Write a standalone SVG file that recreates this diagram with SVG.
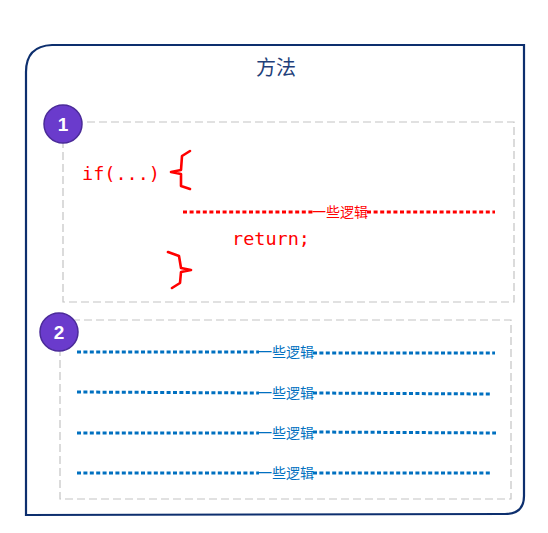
<svg xmlns="http://www.w3.org/2000/svg" width="548" height="533" viewBox="0 0 548 533">
<style>
.frame{fill:#fff;stroke:#0d2f6e;stroke-width:2.2}
.dbox{fill:none;stroke:#c4c4c4;stroke-width:1.2;stroke-dasharray:8 4}
.badge{fill:#6a3bcc;stroke:#4a2a99;stroke-width:1.5}
.num{font-family:"Liberation Sans",Arial,sans-serif;font-weight:bold;font-size:19px;fill:#fff;text-anchor:middle}
.title{font-family:"Noto Sans CJK SC",sans-serif;font-size:20px;fill:#1f3f7a;text-anchor:middle}
.code{font-family:"DejaVu Sans Mono","Liberation Mono",monospace;font-size:18.5px;fill:#ff0000}
.red{fill:none;stroke:#ff0000;stroke-width:3;stroke-dasharray:4 2.6}
.blue{fill:none;stroke:#0070c0;stroke-width:3;stroke-dasharray:4 2.4}
.brace{fill:none;stroke:#ff0000;stroke-width:2.6;stroke-linecap:round;stroke-linejoin:round}
.lblr{font-family:"Noto Sans CJK SC",sans-serif;font-size:14px;fill:#ff0000;text-anchor:middle}
.lblb{font-family:"Noto Sans CJK SC",sans-serif;font-size:14px;fill:#0070c0;text-anchor:middle}
</style>
<g id="method">
<path class="frame" d="M52 45 L524 45 L524 496 Q524 514 505 514 L26 515 L26 72 Q26 46 52 45 Z"/>
<text class="title" x="276" y="75">方法</text>
</g>
<g id="block1">
<rect class="dbox" x="63" y="122" width="451" height="180"/>
<circle class="badge" cx="63" cy="124" r="19"/>
<text class="num" x="63" y="131">1</text>
<text class="code" x="82" y="180">if(...)</text>
<path class="brace" d="M190 151 L182 156 L181 170 L171 172 L181 174 L181 186 L190 189"/>
<text class="code" x="232" y="245">return;</text>
<path class="brace" d="M168 252 L179 256 L181 268 L191 270 L181 272 L180 283 L172 288"/>
</g>
<g id="block2">
<rect class="dbox" x="60" y="320" width="451" height="179"/>
<circle class="badge" cx="59" cy="332" r="19"/>
<text class="num" x="59" y="339">2</text>
</g>
<g id="connectors">
<path class="red" d="M183 212 L313 212"/>
<path class="red" d="M367 212 L495 212"/>
<text class="lblr" x="340" y="217">一些逻辑</text>
<path class="blue" d="M77 352 L259 352"/>
<path class="blue" d="M313 353 L495 353"/>
<text class="lblb" x="286" y="357">一些逻辑</text>
<path class="blue" d="M77 392 L259 393"/>
<path class="blue" d="M313 393 L490 394"/>
<text class="lblb" x="286" y="398">一些逻辑</text>
<path class="blue" d="M77 433 L259 433"/>
<path class="blue" d="M313 432 L496 433"/>
<text class="lblb" x="286" y="438">一些逻辑</text>
<path class="blue" d="M77 473 L259 473"/>
<path class="blue" d="M313 473 L490 473"/>
<text class="lblb" x="286" y="478">一些逻辑</text>
</g>
</svg>
